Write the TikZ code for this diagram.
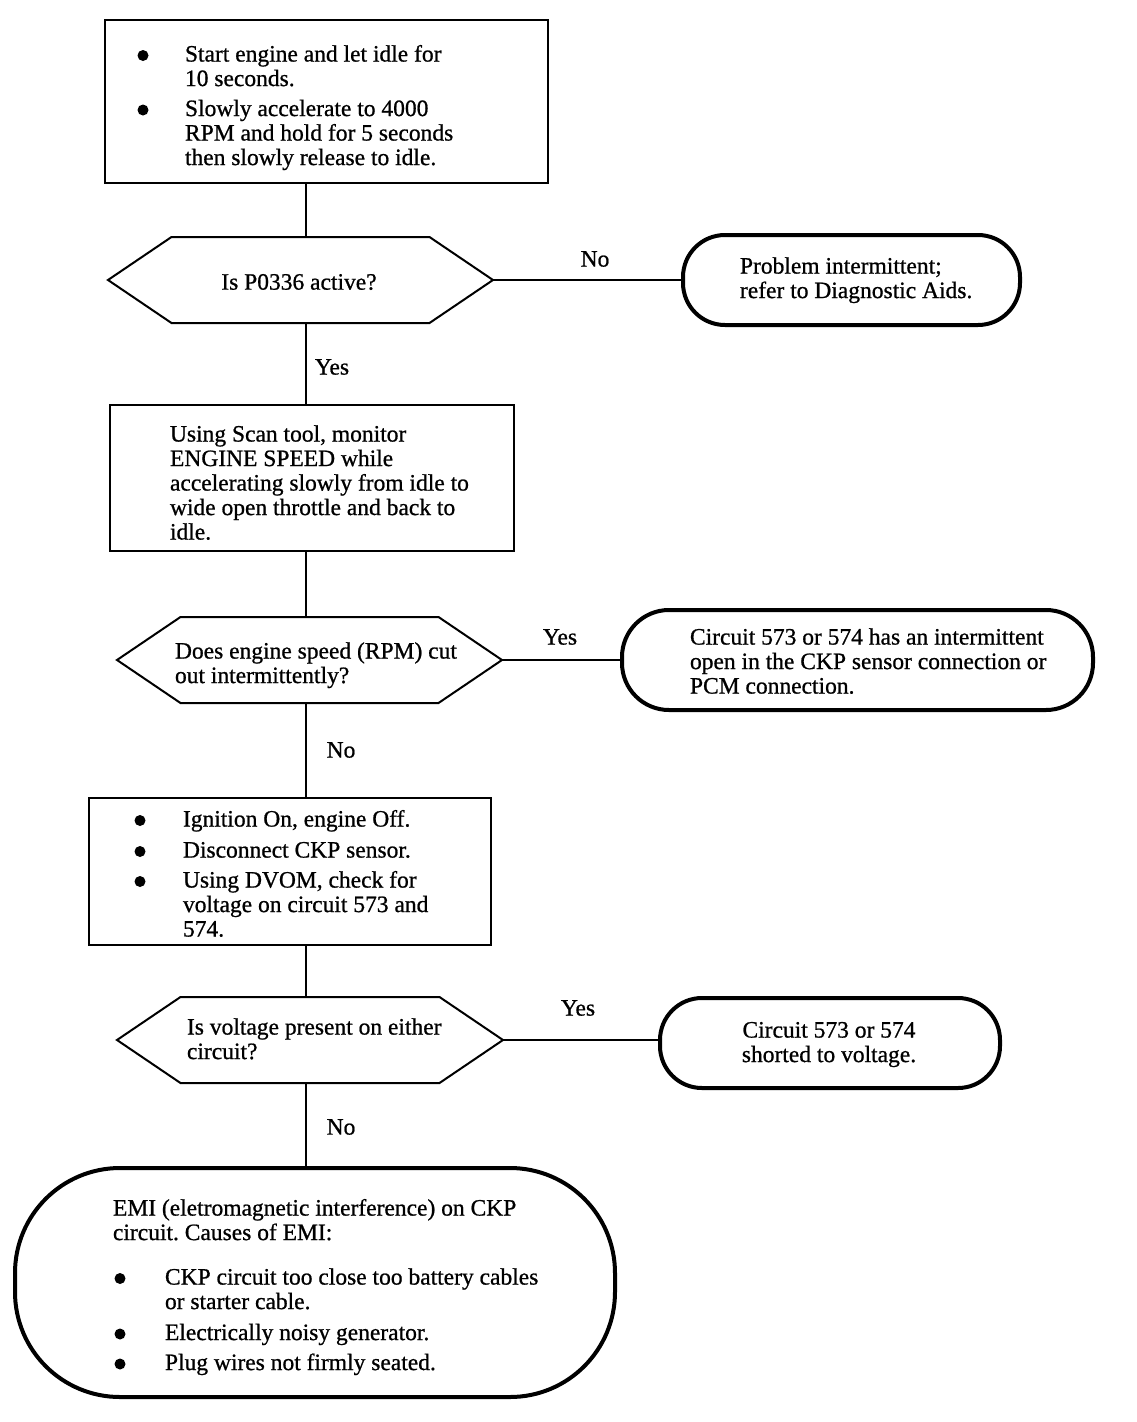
\documentclass[tikz,border=0pt]{standalone}
\usepackage{fontspec}
\setmainfont[FakeBold=0.8]{Liberation Serif}
\usepackage{array}
\frenchspacing
\begin{document}
\begin{tikzpicture}[x=1pt,y=-1pt,
  every node/.style={font=\fontsize{23.5}{24.5}\selectfont\frenchspacing, inner sep=0pt, outer sep=0pt},
  box/.style={draw, line width=2pt, rectangle},
  term/.style={draw, line width=4pt, rectangle, rounded corners=42pt},
  hexnode/.style={rectangle},
  hexline/.style={line width=2pt, line join=miter},
  conn/.style={line width=1.6pt},
  txt/.style={anchor=north west},
  lbl/.style={anchor=center},
  dot/.style={fill=black}
]
\fill[white] (0,0) rectangle (1136,1422);
\useasboundingbox (0,0) rectangle (1136,1422);
\coordinate (spine) at (306,0);

% shapes
\node[box, minimum width=443pt, minimum height=163pt] (b1) at (326.5,101.5) {};
\node[hexnode, minimum width=385pt, minimum height=86pt] (d1) at (300.5,280) {};
\node[term, minimum width=337pt, minimum height=90pt] (t1) at (851.5,280) {};
\node[box, minimum width=404pt, minimum height=146pt] (b2) at (312,478) {};
\node[hexnode, minimum width=385pt, minimum height=86pt] (d2) at (309.5,660) {};
\node[term, rounded corners=47pt, minimum width=471pt, minimum height=100pt] (t2) at (857.5,660) {};
\node[box, minimum width=402pt, minimum height=147pt] (b3) at (290,871.5) {};
\node[hexnode, minimum width=386pt, minimum height=86pt] (d3) at (310,1040) {};
\node[term, minimum width=340pt, minimum height=90pt] (t3) at (830,1043) {};
\node[term, rounded corners=105pt, minimum width=600pt, minimum height=229pt] (emi) at (315,1282.5) {};

\foreach \h in {d1,d2,d3}{
  \draw[hexline] (\h.west) -- ([xshift=63.5pt]\h.north west) -- ([xshift=-63.5pt]\h.north east)
    -- (\h.east) -- ([xshift=-63.5pt]\h.south east) -- ([xshift=63.5pt]\h.south west) -- cycle;
}

% connectors
\draw[conn] (b1.south -| spine) -- (d1.north -| spine);
\draw[conn] (d1.south -| spine) -- (b2.north -| spine);
\draw[conn] (b2.south -| spine) -- (d2.north -| spine);
\draw[conn] (d2.south -| spine) -- (b3.north -| spine);
\draw[conn] (b3.south -| spine) -- (d3.north -| spine);
\draw[conn] (d3.south -| spine) -- (emi.north -| spine);
\draw[conn] (d1.east) -- (t1.west);
\draw[conn] (d2.east) -- (t2.west);
\draw[conn] (d3.east) -- (d3.east -| t3.west);

% bullets
\foreach \p in {(143,55.5),(143,110),(140,820.5),(140,851.5),(140,881.5),(120,1278.5),(120,1334),(120,1364)}
  \fill[dot] \p circle (5.5);

% texts
\node[txt] (b1t) at (185,44.4) {\begin{tabular}{@{}l@{}}
Start engine and let idle for\\
10 seconds.\\[5.5pt]
Slowly accelerate to 4000\\
RPM and hold for 5 seconds\\
then slowly release to idle.
\end{tabular}};
\node[lbl] (d1t) at (299,282) {Is P0336 active?};
\node[txt] (t1t) at (740,256.4) {\begin{tabular}{@{}l@{}}
Problem intermittent;\\
refer to Diagnostic Aids.
\end{tabular}};
\node[txt] (b2t) at (170,424.4) {\begin{tabular}{@{}l@{}}
Using Scan tool, monitor\\
ENGINE SPEED while\\
accelerating slowly from idle to\\
wide open throttle and back to\\
idle.
\end{tabular}};
\node[txt] (d2t) at (175,641.4) {\begin{tabular}{@{}l@{}}
Does engine speed (RPM) cut\\
out intermittently?
\end{tabular}};
\node[txt] (t2t) at (690,627.4) {\begin{tabular}{@{}l@{}}
Circuit 573 or 574 has an intermittent\\
open in the CKP sensor connection or\\
PCM connection.
\end{tabular}};
\node[txt] (b3t) at (183,809.4) {\begin{tabular}{@{}l@{}}
Ignition On, engine Off.\\[6.5pt]
Disconnect CKP sensor.\\[5.5pt]
Using DVOM, check for\\
voltage on circuit 573 and\\
574.
\end{tabular}};
\node[txt] (d3t) at (187,1017.4) {\begin{tabular}{@{}l@{}}
Is voltage present on either\\
circuit?
\end{tabular}};
\node[anchor=north] (t3t) at (829,1020.4) {\begin{tabular}{@{}c@{}}
Circuit 573 or 574\\
shorted to voltage.
\end{tabular}};
\node[txt] (emit) at (113,1198.4) {\begin{tabular}{@{}l@{}}
EMI (eletromagnetic interference) on CKP\\
circuit. Causes of EMI:
\end{tabular}};
\node[txt] (emib) at (165,1267.4) {\begin{tabular}{@{}l@{}}
CKP circuit too close too battery cables\\
or starter cable.\\[6.5pt]
Electrically noisy generator.\\[5.5pt]
Plug wires not firmly seated.
\end{tabular}};

% branch labels
\node[lbl] (l1) at (595,259) {No};
\node[lbl] (l2) at (332,367) {Yes};
\node[lbl] (l3) at (560,637) {Yes};
\node[lbl] (l4) at (341,750) {No};
\node[lbl] (l5) at (578,1008) {Yes};
\node[lbl] (l6) at (341,1127) {No};
\end{tikzpicture}
\end{document}
